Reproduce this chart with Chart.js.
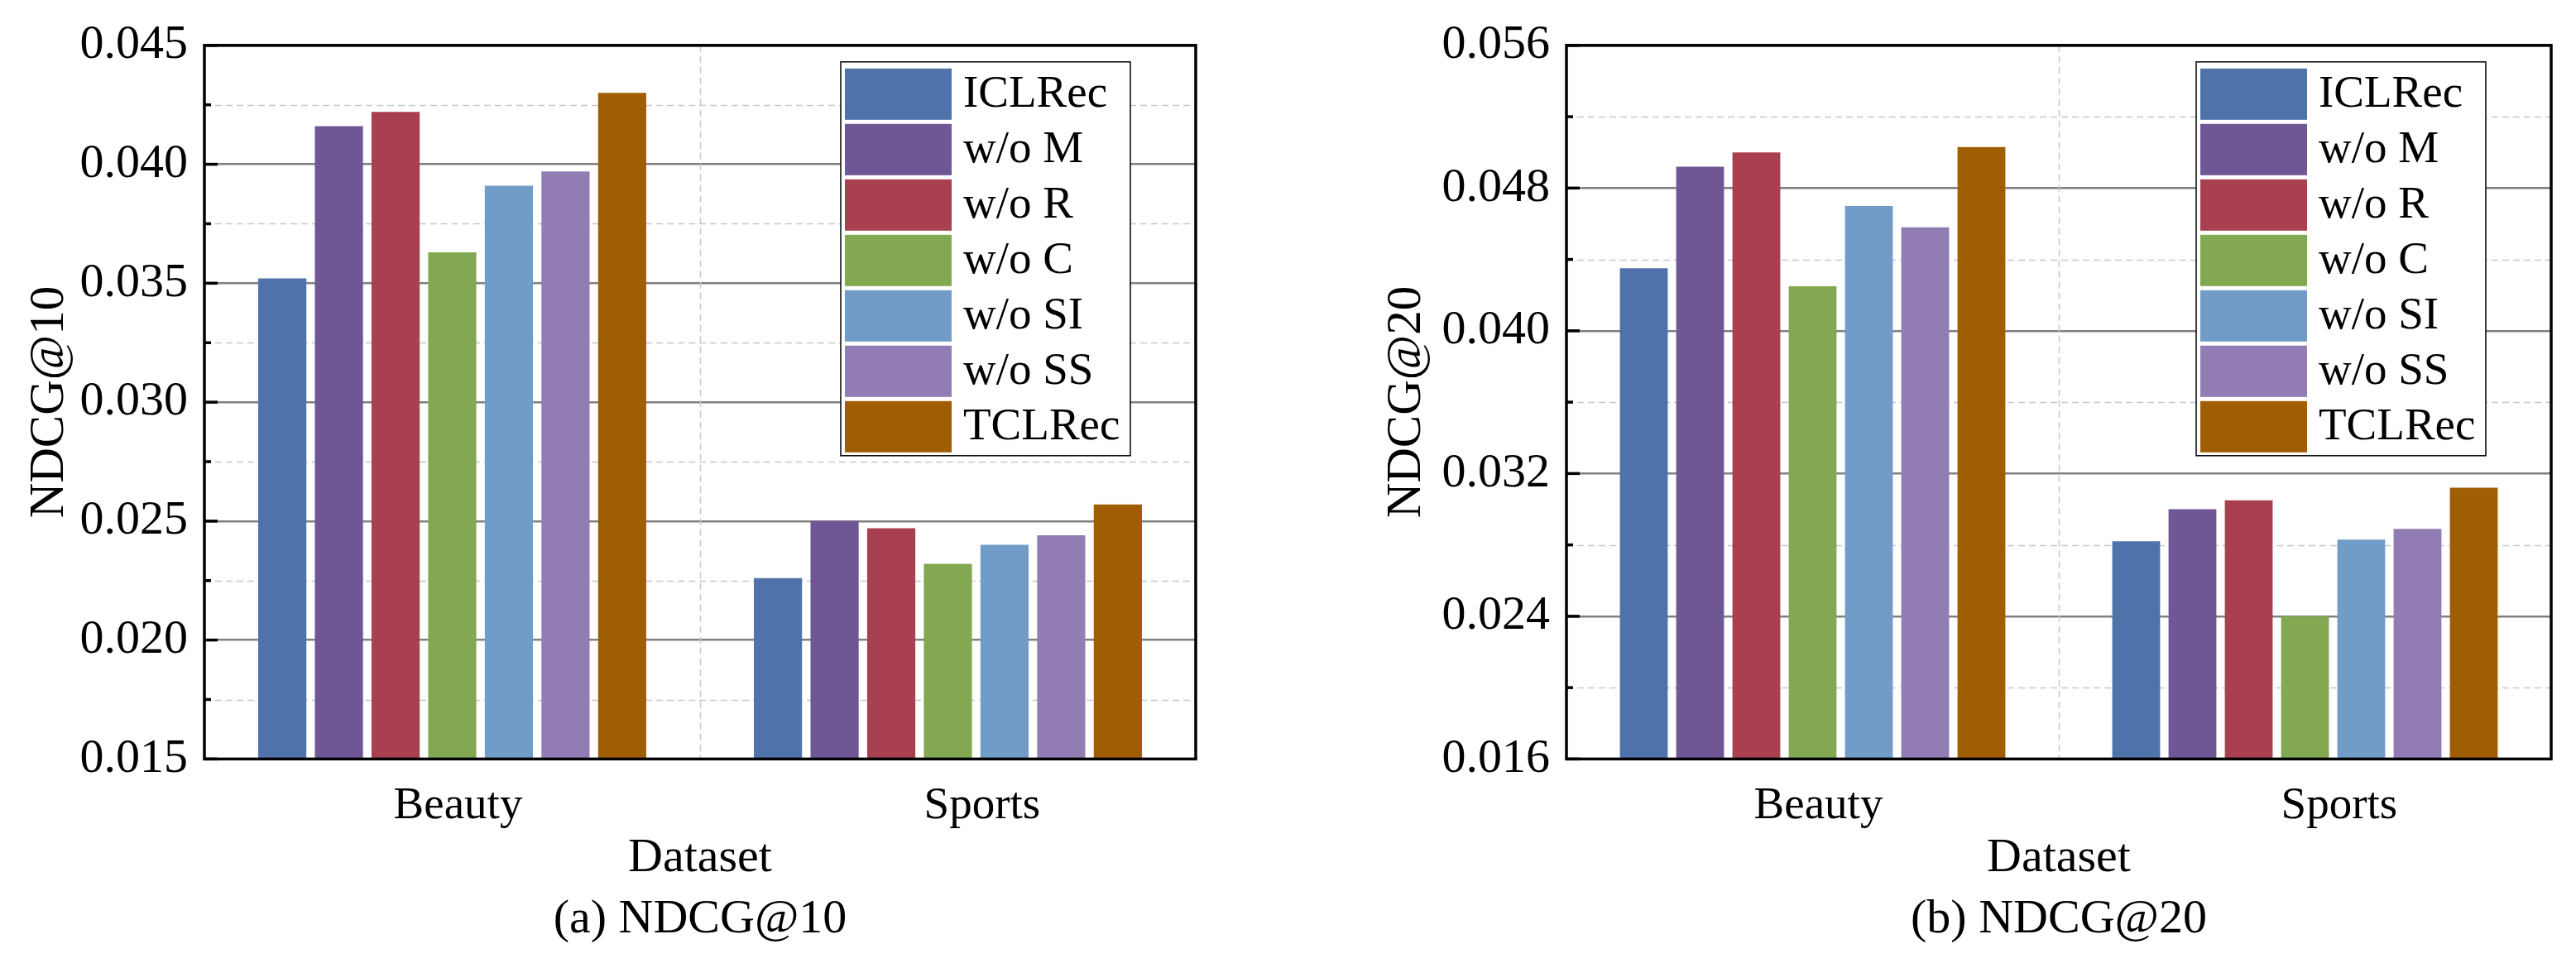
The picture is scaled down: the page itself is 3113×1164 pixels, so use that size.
<!DOCTYPE html>
<html>
<head>
<meta charset="utf-8">
<script src="https://cdn.jsdelivr.net/npm/chart.js@4.4.1/dist/chart.umd.min.js"></script>
<style>
  html, body { margin: 0; padding: 0; background: #fff; }
  body { width: 3113px; height: 1164px; position: relative; overflow: hidden; }
  .panel { position: absolute; top: 0; height: 1164px; }
</style>
</head>
<body>
<div class="panel" style="left:0;width:1556px"><canvas id="chart-ndcg10"></canvas></div>
<div class="panel" style="left:1647px;width:1466px"><canvas id="chart-ndcg20"></canvas></div>
<script>
// data
const categories = ['Beauty', 'Sports'];
const methods = ['ICLRec', 'w/o M', 'w/o R', 'w/o C', 'w/o SI', 'w/o SS', 'TCLRec'];
const colors = ['#4F72AA', '#6F5796', '#A8404F', '#82A852', '#719CC8', '#917DB4', '#A05E04'];

const ndcg10Beauty = [0.0352, 0.0416, 0.0422, 0.0363, 0.0391, 0.0397, 0.0430];
const ndcg10Sports = [0.0226, 0.0250, 0.0247, 0.0232, 0.0240, 0.0244, 0.0257];
const ndcg20Beauty = [0.0435, 0.0492, 0.0500, 0.0425, 0.0470, 0.0458, 0.0503];
const ndcg20Sports = [0.0282, 0.0300, 0.0305, 0.0240, 0.0283, 0.0289, 0.0312];

const ticks10 = [0.015, 0.020, 0.025, 0.030, 0.035, 0.040, 0.045];
const ticks20 = [0.016, 0.024, 0.032, 0.040, 0.048, 0.056];

const FONT = '"Liberation Serif", "Times New Roman", serif';

// minor grid, frame, inner ticks and the boxed legend
const decor = {
  id: 'decor',
  beforeDatasetsDraw(chart) {
    const ctx = chart.ctx, ca = chart.chartArea;
    const y = chart.scales.y, x = chart.scales.x;
    const t = chart.options.plugins.decor.ticks;
    ctx.save();
    ctx.strokeStyle = '#c8c8c8';
    ctx.lineWidth = 1.5;
    ctx.setLineDash([8, 5]);
    for (let i = 0; i < t.length - 1; i++) {
      const py = Math.round(y.getPixelForValue((t[i] + t[i + 1]) / 2)) + 0.5;
      ctx.beginPath(); ctx.moveTo(ca.left, py); ctx.lineTo(ca.right, py); ctx.stroke();
    }
    const px = Math.round((x.getPixelForValue(0) + x.getPixelForValue(1)) / 2) + 0.5;
    ctx.beginPath(); ctx.moveTo(px, ca.top); ctx.lineTo(px, ca.bottom); ctx.stroke();
    ctx.restore();
  },
  afterDatasetsDraw(chart) {
    const ctx = chart.ctx, ca = chart.chartArea;
    const y = chart.scales.y;
    const t = chart.options.plugins.decor.ticks;
    ctx.save();
    ctx.strokeStyle = '#000';
    ctx.lineWidth = 3.5;
    ctx.strokeRect(ca.left, ca.top, ca.right - ca.left, ca.bottom - ca.top);
    for (let i = 0; i < t.length; i++) {
      const py = y.getPixelForValue(t[i]);
      ctx.beginPath(); ctx.moveTo(ca.left, py); ctx.lineTo(ca.left + 16, py); ctx.stroke();
      if (i < t.length - 1) {
        const pm = y.getPixelForValue((t[i] + t[i + 1]) / 2);
        ctx.beginPath(); ctx.moveTo(ca.left, pm); ctx.lineTo(ca.left + 8, pm); ctx.stroke();
      }
    }
    // legend
    const bw = 350, bh = 476;
    const x0 = ca.right - 79 - bw, y0 = ca.top + 20;
    ctx.fillStyle = '#fff';
    ctx.fillRect(x0, y0, bw, bh);
    ctx.lineWidth = 1.5;
    ctx.strokeRect(x0, y0, bw, bh);
    ctx.font = '55px ' + FONT;
    ctx.textBaseline = 'middle';
    ctx.textAlign = 'left';
    chart.data.datasets.forEach((ds, i) => {
      const sy = y0 + 8 + i * 67;
      ctx.fillStyle = ds.backgroundColor;
      ctx.fillRect(x0 + 5, sy, 129, 62);
      ctx.fillStyle = '#000';
      ctx.fillText(ds.label, x0 + 148, sy + 32);
    });
    ctx.restore();
  }
};

function makeChart(id, beauty, sports, yTicks, yTitle, caption, rightPad, axisW, titlePad) {
  const datasets = methods.map((m, i) => ({
    label: m,
    data: [beauty[i], sports[i]],
    backgroundColor: colors[i],
    borderWidth: 0
  }));
  return new Chart(document.getElementById(id), {
    type: 'bar',
    data: { labels: categories, datasets: datasets },
    plugins: [decor],
    options: {
      responsive: true,
      maintainAspectRatio: false,
      animation: false,
      categoryPercentage: 0.8,
      barPercentage: 0.85,
      layout: { padding: { top: 50, right: rightPad, left: 0, bottom: 0 } },
      plugins: {
        legend: { display: false },
        tooltip: { enabled: false },
        title: {
          display: true, position: 'bottom', fullSize: false,
          text: caption, color: '#000',
          font: { family: FONT, size: 58, weight: 'normal' },
          padding: { top: 0, bottom: 17 }
        },
        decor: { ticks: yTicks }
      },
      scales: {
        x: {
          grid: { display: false },
          border: { display: false },
          ticks: {
            color: '#000', font: { family: FONT, size: 55 }, padding: 16, labelOffset: 7,
            // the second label sits a bit right of its group in the original
            callback: (v, i) => (i === 1 ? '     ' : '') + categories[i]
          },
          title: { display: true, text: 'Dataset', color: '#000', font: { family: FONT, size: 58 }, padding: { top: 0, bottom: 5 } },
          afterFit(s) { s.height = 160; }
        },
        y: {
          min: yTicks[0],
          max: yTicks[yTicks.length - 1],
          afterBuildTicks(s) { s.ticks = yTicks.map(v => ({ value: v })); },
          grid: { color: '#808080', lineWidth: 2.5, drawTicks: false },
          border: { display: false },
          ticks: {
            color: '#000', font: { family: FONT, size: 58 }, padding: 20,
            callback: v => Number(v).toFixed(3)
          },
          title: { display: true, text: yTitle, color: '#000', font: { family: FONT, size: 59 }, padding: { top: titlePad, bottom: 0 } },
          afterFit(s) { s.width = axisW; }
        }
      }
    }
  });
}

makeChart('chart-ndcg10', ndcg10Beauty, ndcg10Sports, ticks10, 'NDCG@10', '(a) NDCG@10', 111, 247, 25);
makeChart('chart-ndcg20', ndcg20Beauty, ndcg20Sports, ticks20, 'NDCG@20', '(b) NDCG@20', 30, 246, 18);
</script>
</body>
</html>
